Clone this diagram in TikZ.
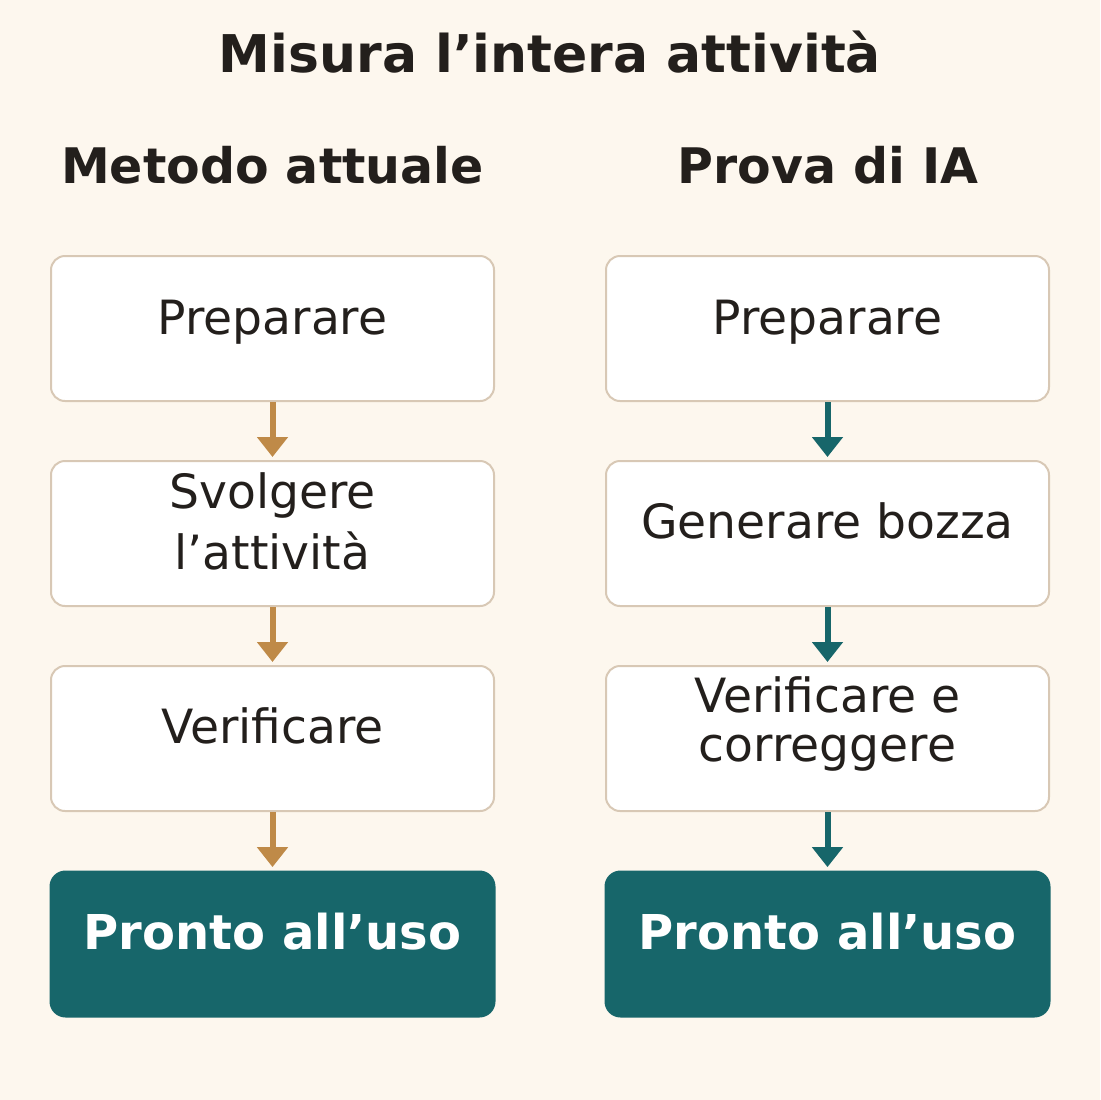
\documentclass[tikz,border=0pt]{standalone}
\usepackage{fontspec}
\setmainfont{DejaVu Sans}
\usetikzlibrary{arrows.meta, positioning}
\definecolor{bgcolor}{RGB}{253, 247, 238}
\definecolor{edgecolor}{RGB}{216, 200, 181}
\definecolor{inkcolor}{RGB}{35, 31, 28}
\definecolor{tancolor}{RGB}{191, 138, 72}
\definecolor{tealcolor}{RGB}{23, 102, 106}
\tikzset{
    stepbox/.style={draw=edgecolor, line width=1pt, fill=white, rounded corners=7pt,
        minimum width=221.5pt, minimum height=72.5pt, inner sep=0pt},
    donebox/.style={fill=tealcolor, rounded corners=8pt,
        minimum width=223pt, minimum height=73.5pt, inner sep=0pt},
    steptext/.style={anchor=base, text=inkcolor, font=\fontsize{23.6}{28}\selectfont},
    donetext/.style={anchor=base, text=white, font=\bfseries\fontsize{24}{28}\selectfont},
    headtext/.style={anchor=base, text=inkcolor, font=\bfseries\fontsize{24.5}{29}\selectfont},
    flowtan/.style={draw=tancolor, line width=3pt, -{Triangle[width=15pt,length=10pt]}},
    flowteal/.style={draw=tealcolor, line width=3pt, -{Triangle[width=15pt,length=10pt]}}
}
\begin{document}
\begin{tikzpicture}[x=0.5pt, y=-0.5pt]
    \fill[bgcolor] (0,0) rectangle (1100,1100);
    \useasboundingbox (0,0) rectangle (1100,1100);

    % titles
    \node[anchor=base, text=inkcolor, font=\bfseries\fontsize{26}{31}\selectfont] (title) at (550,72) {Misura l’intera attività};
    \node[headtext] (hleft) at (272.5,183) {Metodo attuale};
    \node[headtext] (hright) at (828,183) {Prova di IA};

    % left column
    \node[stepbox] (l1) at (272.5,328.5) {};
    \node[stepbox] (l2) at (272.5,533.5) {};
    \node[stepbox] (l3) at (272.5,738.5) {};
    \node[donebox] (l4) at (272.5,944) {};
    \node[steptext] (l1t) at (272.5,334) {Preparare};
    \node[steptext] (l2a) at (272.5,508) {Svolgere};
    \node[steptext] (l2b) at (272.5,569) {l’attività};
    \node[steptext] (l3t) at (272.5,743) {Verificare};
    \node[donetext] (l4t) at (272.5,949) {Pronto all’uso};

    % right column
    \node[stepbox] (r1) at (827.5,328.5) {};
    \node[stepbox] (r2) at (827.5,533.5) {};
    \node[stepbox] (r3) at (827.5,738.5) {};
    \node[donebox] (r4) at (827.5,944) {};
    \node[steptext] (r1t) at (827.5,334) {Preparare};
    \node[steptext] (r2t) at (827.5,538) {Generare bozza};
    \node[steptext] (r3a) at (827.5,712) {Verificare e};
    \node[steptext] (r3b) at (827.5,761) {correggere};
    \node[donetext] (r4t) at (827.5,949) {Pronto all’uso};

    % arrows
    \draw[flowtan] (l1.south) -- ([yshift=1.5pt]l2.north);
    \draw[flowtan] (l2.south) -- ([yshift=1.5pt]l3.north);
    \draw[flowtan] (l3.south) -- ([yshift=1.5pt]l4.north);
    \draw[flowteal] (r1.south) -- ([yshift=1.5pt]r2.north);
    \draw[flowteal] (r2.south) -- ([yshift=1.5pt]r3.north);
    \draw[flowteal] (r3.south) -- ([yshift=1.5pt]r4.north);
\end{tikzpicture}
\end{document}
